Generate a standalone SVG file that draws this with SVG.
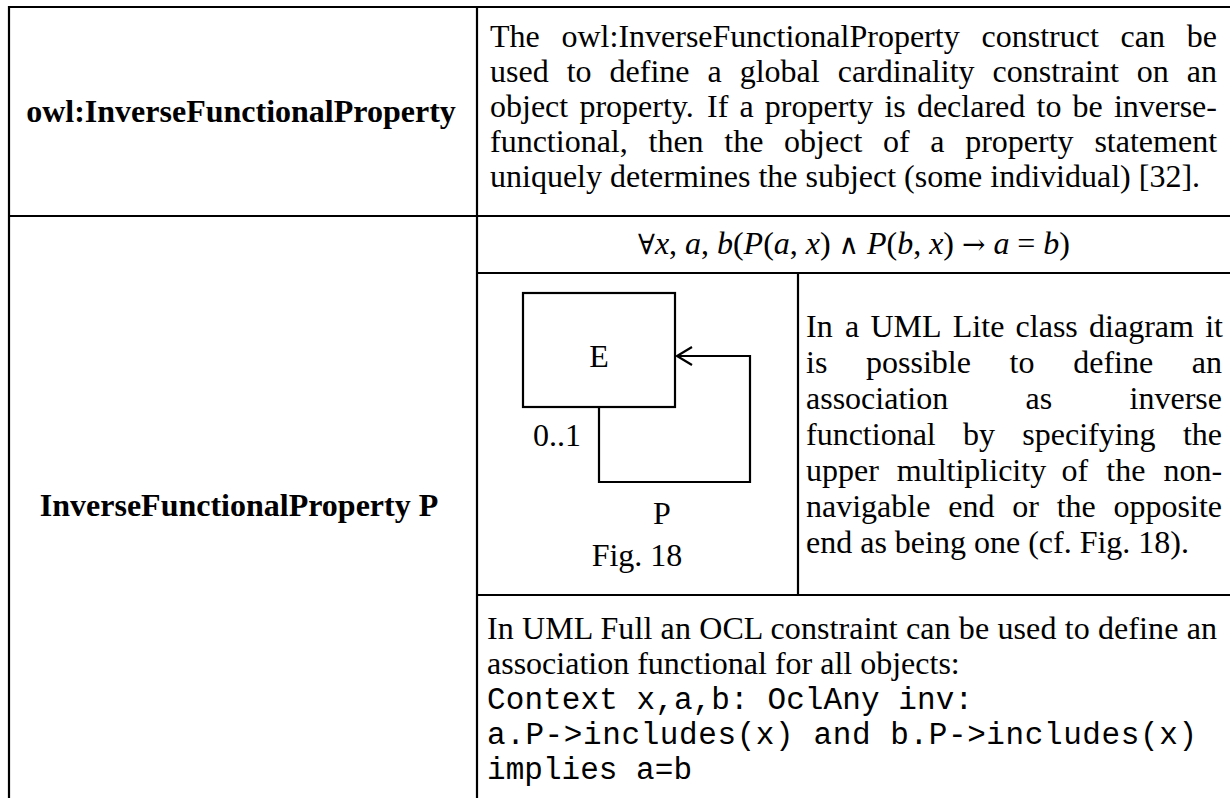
<svg xmlns="http://www.w3.org/2000/svg" width="1230" height="798" viewBox="0 0 1230 798">
<style>
  .grid { stroke: #000; stroke-width: 2.2; fill: none; }
  .t { font-family: "Liberation Serif", "Times New Roman", serif; font-size: 32px; fill: #000; }
  .b { font-family: "Liberation Serif", "Times New Roman", serif; font-size: 32px; font-weight: bold; fill: #000; }
  .m { font-family: "Liberation Mono", "Courier New", monospace; font-size: 31px; fill: #000; }
  .f { font-family: "Liberation Serif", "Times New Roman", serif; font-size: 32px; fill: #000; }
  .i { font-style: italic; }
  .sym { font-family: "DejaVu Serif", serif; font-weight: normal; font-size: 28px; }
  .shape { stroke: #000; stroke-width: 2.2; fill: none; }
</style>
<rect width="1230" height="798" fill="#fff"/>

<g id="table-grid">
  <line class="grid" x1="9" y1="7" x2="1230" y2="7"/>
  <line class="grid" x1="9" y1="6" x2="9" y2="798"/>
  <line class="grid" x1="9" y1="216" x2="1230" y2="216"/>
  <line class="grid" x1="477" y1="7" x2="477" y2="798"/>
  <line class="grid" x1="477" y1="273" x2="1230" y2="273"/>
  <line class="grid" x1="798" y1="273" x2="798" y2="595"/>
  <line class="grid" x1="477" y1="595" x2="1230" y2="595"/>
</g>

<g id="label-owl">
  <text class="b" x="241" y="122" text-anchor="middle">owl:InverseFunctionalProperty</text>
</g>

<g id="desc-owl">
  <text class="t" y="47"><tspan x="490">The</tspan><tspan x="561.5">owl:InverseFunctionalProperty</tspan><tspan x="981.5">construct</tspan><tspan x="1120.6">can</tspan><tspan x="1186.8">be</tspan></text>
  <text class="t" y="82"><tspan x="490">used</tspan><tspan x="566.7">to</tspan><tspan x="609.6">define</tspan><tspan x="707.5">a</tspan><tspan x="739.7">global</tspan><tspan x="837.7">cardinality</tspan><tspan x="992.6">constraint</tspan><tspan x="1136.8">on</tspan><tspan x="1186.8">an</tspan></text>
  <text class="t" y="117"><tspan x="490">object</tspan><tspan x="579.4">property.</tspan><tspan x="707">If</tspan><tspan x="739.5">a</tspan><tspan x="764.8">property</tspan><tspan x="884.4">is</tspan><tspan x="916.9">declared</tspan><tspan x="1036.5">to</tspan><tspan x="1072.6">be</tspan><tspan x="1113.9">inverse-</tspan></text>
  <text class="t" y="152"><tspan x="490">functional,</tspan><tspan x="648.5">then</tspan><tspan x="724.3">the</tspan><tspan x="784.1">object</tspan><tspan x="883">of</tspan><tspan x="930.3">a</tspan><tspan x="965.2">property</tspan><tspan x="1094.4">statement</tspan></text>
  <text class="t" x="490" y="187">uniquely determines the subject (some individual) [32].</text>
</g>

<g id="label-ifp">
  <text class="b" x="239" y="516" text-anchor="middle">InverseFunctionalProperty P</text>
</g>

<g id="formula">
  <text class="f" x="854" y="254" text-anchor="middle" textLength="432" lengthAdjust="spacing"><tspan class="sym">∀</tspan><tspan class="i">x</tspan>, <tspan class="i">a</tspan>, <tspan class="i">b</tspan>(<tspan class="i">P</tspan>(<tspan class="i">a</tspan>, <tspan class="i">x</tspan>) <tspan class="sym">∧</tspan> <tspan class="i">P</tspan>(<tspan class="i">b</tspan>, <tspan class="i">x</tspan>) <tspan class="sym">→</tspan> <tspan class="i">a</tspan> = <tspan class="i">b</tspan>)</text>
</g>

<g id="node-E">
  <rect class="shape" x="523" y="293" width="152" height="114"/>
  <text class="t" x="599" y="367" text-anchor="middle">E</text>
</g>

<g id="connectors">
  <path class="shape" d="M599,407 V482 H750 V356 H677"/>
  <polyline class="shape" points="692,347 677,356 692,365"/>
</g>

<g id="labels-diagram">
  <text class="t" x="533" y="446">0..1</text>
  <text class="t" x="662" y="524" text-anchor="middle">P</text>
  <text class="t" x="637" y="566" text-anchor="middle">Fig. 18</text>
</g>

<g id="desc-uml-lite">
  <text class="t" y="337"><tspan x="806">In</tspan><tspan x="844.9">a</tspan><tspan x="870.4">UML</tspan><tspan x="952.8">Lite</tspan><tspan x="1015.6">class</tspan><tspan x="1089.1">diagram</tspan><tspan x="1205.2">it</tspan></text>
  <text class="t" y="373"><tspan x="806">is</tspan><tspan x="866">possible</tspan><tspan x="1009.6">to</tspan><tspan x="1073.2">define</tspan><tspan x="1191.8">an</tspan></text>
  <text class="t" y="409"><tspan x="806">association</tspan><tspan x="1025.6">as</tspan><tspan x="1129.6">inverse</tspan></text>
  <text class="t" y="445"><tspan x="806">functional</tspan><tspan x="963">by</tspan><tspan x="1022.3">specifying</tspan><tspan x="1182.9">the</tspan></text>
  <text class="t" y="481"><tspan x="806">upper</tspan><tspan x="896.8">multiplicity</tspan><tspan x="1061.6">of</tspan><tspan x="1106.3">the</tspan><tspan x="1163.4">non-</tspan></text>
  <text class="t" y="517"><tspan x="806">navigable</tspan><tspan x="948.2">end</tspan><tspan x="1012.2">or</tspan><tspan x="1056.7">the</tspan><tspan x="1113.6">opposite</tspan></text>
  <text class="t" x="806" y="553">end as being one (cf. Fig. 18).</text>
</g>

<g id="desc-uml-full">
  <text class="t" x="487" y="639" textLength="730" lengthAdjust="spacing">In UML Full an OCL constraint can be used to define an</text>
  <text class="t" x="487" y="674">association functional for all objects:</text>
  <text class="m" x="487" y="709" textLength="486" lengthAdjust="spacing">Context x,a,b: OclAny inv:</text>
  <text class="m" x="487" y="744" textLength="710" lengthAdjust="spacing">a.P-&gt;includes(x) and b.P-&gt;includes(x)</text>
  <text class="m" x="487" y="779" textLength="205" lengthAdjust="spacing">implies a=b</text>
</g>
</svg>
